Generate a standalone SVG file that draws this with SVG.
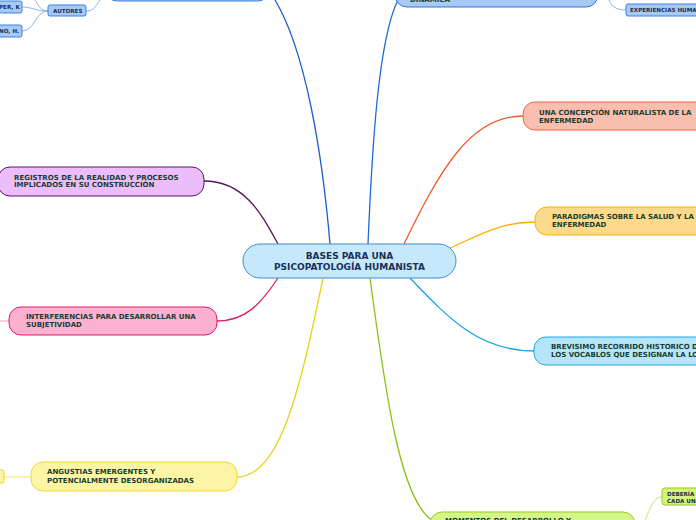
<svg xmlns="http://www.w3.org/2000/svg" width="696" height="520" viewBox="0 0 696 520">
<style>
.t{font-family:"DejaVu Sans",Verdana,sans-serif;font-weight:bold;font-size:7px;fill:#173d30}
.s{font-family:"DejaVu Sans",Verdana,sans-serif;font-weight:bold;font-size:5.6px;fill:#1a2f55}
.c{font-family:"DejaVu Sans",Verdana,sans-serif;font-weight:bold;font-size:9px;fill:#1b2f5a}
.l{fill:none;stroke-width:1.3}
.sl{fill:none;stroke-width:1}
.b{fill:#a8c8f6;stroke:#3b82e0;stroke-width:1}
</style>
<rect width="696" height="520" fill="#ffffff"/>
<g id="connectors">
<path class="l" stroke="#1c5fcf" d="M330,244 C322,150 305,50 275,0"/>
<path class="l" stroke="#1c6bd6" d="M368,244 C372,150 378,40 398,0"/>
<path class="l" stroke="#f05a28" d="M404,244 C440,170 470,116 523,116"/>
<path class="l" stroke="#f9b000" d="M450,248 C480,235 500,222 535,222"/>
<path class="l" stroke="#14a4e0" d="M410,278 C450,320 480,351 534,351"/>
<path class="l" stroke="#8cbf1a" d="M370,278 C385,390 400,500 432,520"/>
<path class="l" stroke="#e8d21c" d="M323,278 C300,390 280,477 237,477"/>
<path class="l" stroke="#e6186a" d="M278,278 C260,305 245,321 217,321"/>
<path class="l" stroke="#56125c" d="M278,244 C262,215 245,181 204,181"/>
<path class="sl" stroke="#8ab4f0" d="M86,11 C95,11 96,5 100,0"/>
<path class="sl" stroke="#8ab4f0" d="M48,11 C40,11 38,4 35,0"/>
<path class="sl" stroke="#8ab4f0" d="M48,11 C35,11 32,7 22,7"/>
<path class="sl" stroke="#8ab4f0" d="M48,11 C35,11 35,31 22,31"/>
<path class="sl" stroke="#8ab4f0" d="M609,0 C611,6 616,10 626,10"/>
<path class="sl" stroke="#c6e870" d="M645,520 C652,505 654,497 662,497"/>
<path class="sl" stroke="#f3e36a" d="M31,477 L4,477"/>
<path class="sl" stroke="#f59bc2" d="M9,321 L0,321"/>
</g>
<g id="n-top-left"><rect x="105" y="-30" width="165" height="31" rx="12" class="b" stroke="#1c5fcf"/></g>
<g id="n-top-right"><rect x="395" y="-25" width="203" height="32" rx="12" fill="#a8c8f6" stroke="#2f76dc" stroke-width="1"/><text class="t" x="410" y="1.5">DINÁMICA</text></g>
<g id="n-experiencias"><rect x="626" y="4" width="80" height="12" rx="2" class="b"/><text class="s" x="630" y="12">EXPERIENCIAS HUMANAS</text></g>
<g id="n-autores"><rect x="48" y="5" width="38" height="11" rx="2" class="b"/><text class="s" x="53" y="12.7">AUTORES</text></g>
<g id="n-per"><rect x="-20" y="1" width="42" height="12" rx="2" class="b"/><text class="s" x="-1" y="9">PER, K</text></g>
<g id="n-no"><rect x="-20" y="25" width="42" height="12" rx="2" class="b"/><text class="s" x="-1" y="33">NO, H.</text></g>
<g id="n-naturalista"><rect x="523" y="102" width="200" height="28" rx="12" fill="#f9bfae" stroke="#f0643c" stroke-width="1"/><text class="t" x="539" y="115">UNA CONCEPCIÓN NATURALISTA DE LA</text><text class="t" x="539" y="122.5">ENFERMEDAD</text></g>
<g id="n-paradigmas"><rect x="535" y="207" width="190" height="28" rx="12" fill="#fdd98b" stroke="#f7b500" stroke-width="1"/><text class="t" x="552" y="219">PARADIGMAS SOBRE LA SALUD Y LA</text><text class="t" x="552" y="227">ENFERMEDAD</text></g>
<g id="n-brevisimo"><rect x="534" y="337" width="190" height="28" rx="12" fill="#b5e5f9" stroke="#1fa6e0" stroke-width="1"/><text class="t" x="551" y="348.5">BREVISIMO RECORRIDO HISTORICO DE</text><text class="t" x="551" y="356.7">LOS VOCABLOS QUE DESIGNAN LA LOCURA</text></g>
<g id="n-momentos"><rect x="430" y="512" width="205" height="30" rx="12" fill="#d5f78a" stroke="#9cc920" stroke-width="1"/><text class="t" x="445" y="523">MOMENTOS DEL DESARROLLO Y</text></g>
<g id="n-deberia"><rect x="662" y="488" width="60" height="17" rx="3" fill="#d3f57a" stroke="#9cc920" stroke-width="1"/><text class="s" x="667" y="496">DEBERÍA</text><text class="s" x="667" y="502.5">CADA UNA</text></g>
<g id="n-angustias"><rect x="31" y="462" width="206" height="29" rx="12" fill="#fdf5a6" stroke="#f1d92b" stroke-width="1"/><text class="t" x="47" y="474">ANGUSTIAS EMERGENTES Y</text><text class="t" x="47" y="482.7">POTENCIALMENTE DESORGANIZADAS</text></g>
<g id="n-angustias-sub"><rect x="-20" y="470" width="24" height="13" rx="2" fill="#fdf5a6" stroke="#f1d92b" stroke-width="1"/></g>
<g id="n-interferencias"><rect x="9" y="307" width="208" height="28" rx="12" fill="#fdb1d1" stroke="#e8176b" stroke-width="1"/><text class="t" x="26" y="319">INTERFERENCIAS PARA DESARROLLAR UNA</text><text class="t" x="26" y="327">SUBJETIVIDAD</text></g>
<g id="n-registros"><rect x="-2" y="167" width="206" height="29" rx="12" fill="#ebbdfa" stroke="#5a1660" stroke-width="1"/><text class="t" x="14" y="179.5">REGISTROS DE LA REALIDAD Y PROCESOS</text><text class="t" x="14" y="187">IMPLICADOS EN SU CONSTRUCCIÓN</text></g>
<g id="n-central"><rect x="243" y="244" width="213" height="34" rx="17" fill="#c5e9fb" stroke="#3d8ecf" stroke-width="1"/><text class="c" x="349.5" y="258.5" text-anchor="middle">BASES PARA UNA</text><text class="c" x="349.5" y="269.5" text-anchor="middle">PSICOPATOLOGÍA HUMANISTA</text></g>
</svg>
